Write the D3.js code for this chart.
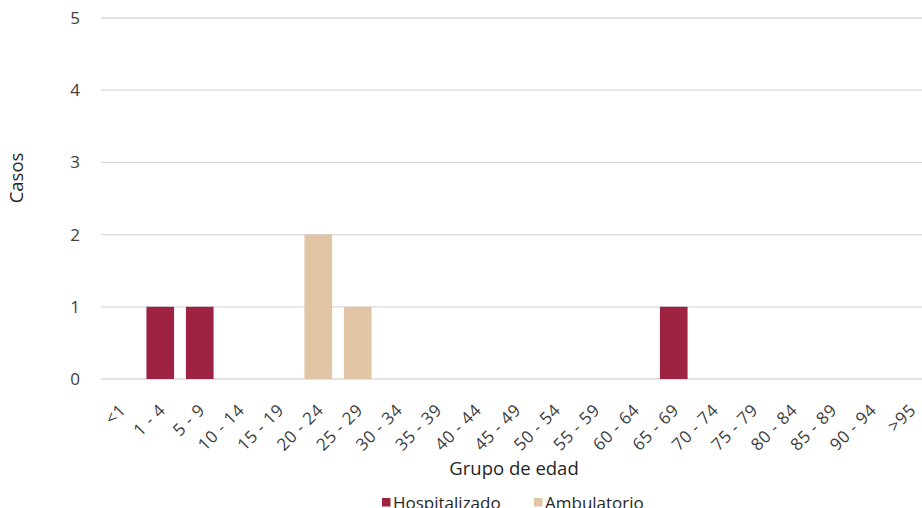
<!DOCTYPE html>
<html>
<head>
<meta charset="utf-8">
<script src="https://cdn.jsdelivr.net/npm/d3@7"></script>
<style>
  html, body { margin: 0; padding: 0; background: #fff; }
  svg { display: block; font-family: "Open Sans", "Lato", sans-serif; }
</style>
</head>
<body>
<svg id="chart" width="922" height="508"></svg>
<script>
// Age groups and case counts by care setting
const categories = ["<1", "1 - 4", "5 - 9", "10 - 14", "15 - 19", "20 - 24", "25 - 29", "30 - 34",
  "35 - 39", "40 - 44", "45 - 49", "50 - 54", "55 - 59", "60 - 64", "65 - 69", "70 - 74",
  "75 - 79", "80 - 84", "85 - 89", "90 - 94", ">95"];
const hospitalizado = [0, 1, 1, 0, 0, 0, 0, 0, 0, 0, 0, 0, 0, 0, 1, 0, 0, 0, 0, 0, 0];
const ambulatorio   = [0, 0, 0, 0, 0, 2, 1, 0, 0, 0, 0, 0, 0, 0, 0, 0, 0, 0, 0, 0, 0];
const yTicks = [0, 1, 2, 3, 4, 5];
const seriesNames = ["Hospitalizado", "Ambulatorio"];
const seriesColors = ["#9E2241", "#E1C5A5"];

const svg = d3.select("#chart");
const m = { left: 101, right: 930.5, top: 18, bottom: 379 };

const x = d3.scaleBand().domain(categories).range([m.left, m.right]).paddingInner(0.3).paddingOuter(0.15);
const y = d3.scaleLinear().domain([0, 5]).range([m.bottom, m.top]);

// Gridlines
svg.append("g").selectAll("line").data(yTicks).join("line")
  .attr("x1", m.left).attr("x2", 922)
  .attr("y1", d => y(d)).attr("y2", d => y(d))
  .attr("stroke", "#d9d9d9").attr("stroke-width", 1.3);

// Y axis labels
const yAxis = svg.append("g").attr("transform", `translate(${m.left},0)`)
  .call(d3.axisLeft(y).tickValues(yTicks).tickSize(0).tickPadding(21).tickFormat(d3.format("d")));
yAxis.select(".domain").remove();
yAxis.selectAll("text").attr("font-size", 17).attr("fill", "#404040")
  .attr("font-family", "'Open Sans', sans-serif");

// Stacked bars
const rows = categories.map((c, i) => ({ cat: c, Hospitalizado: hospitalizado[i], Ambulatorio: ambulatorio[i] }));
const stacked = d3.stack().keys(seriesNames)(rows);
svg.append("g").selectAll("g").data(stacked).join("g")
  .attr("fill", (d, i) => seriesColors[i])
  .selectAll("rect").data(d => d.filter(s => s[1] - s[0] > 0)).join("rect")
  .attr("x", d => x(d.data.cat))
  .attr("width", x.bandwidth())
  .attr("y", d => y(d[1]))
  .attr("height", d => y(d[0]) - y(d[1]));

// X axis labels, rotated
const xAxis = svg.append("g").attr("transform", `translate(0,${m.bottom})`)
  .call(d3.axisBottom(x).tickSize(0).tickPadding(0));
xAxis.select(".domain").remove();
xAxis.selectAll("text")
  .attr("font-size", 17).attr("fill", "#404040")
  .attr("letter-spacing", "0.6px")
  .attr("font-family", "'Open Sans', sans-serif")
  .attr("text-anchor", "end")
  .attr("dy", "0.35em")
  .attr("transform", "translate(2,28) rotate(-45)");

// Axis titles
svg.append("text").attr("x", 514).attr("y", 475).attr("text-anchor", "middle")
  .attr("font-size", 18.5).attr("fill", "#262626").text("Grupo de edad");
svg.append("text").attr("transform", "translate(23,178) rotate(-90)").attr("text-anchor", "middle")
  .attr("font-size", 18.5).attr("fill", "#262626").text("Casos");

// Legend
const legend = svg.append("g");
const lx = [382, 534];
seriesNames.forEach((n, i) => {
  legend.append("rect").attr("x", lx[i]).attr("y", 498).attr("width", 8.5).attr("height", 8.5).attr("fill", seriesColors[i]);
  legend.append("text").attr("x", lx[i] + 11).attr("y", 509).attr("font-size", 17).attr("fill", "#262626").text(n);
});
</script>
</body>
</html>
